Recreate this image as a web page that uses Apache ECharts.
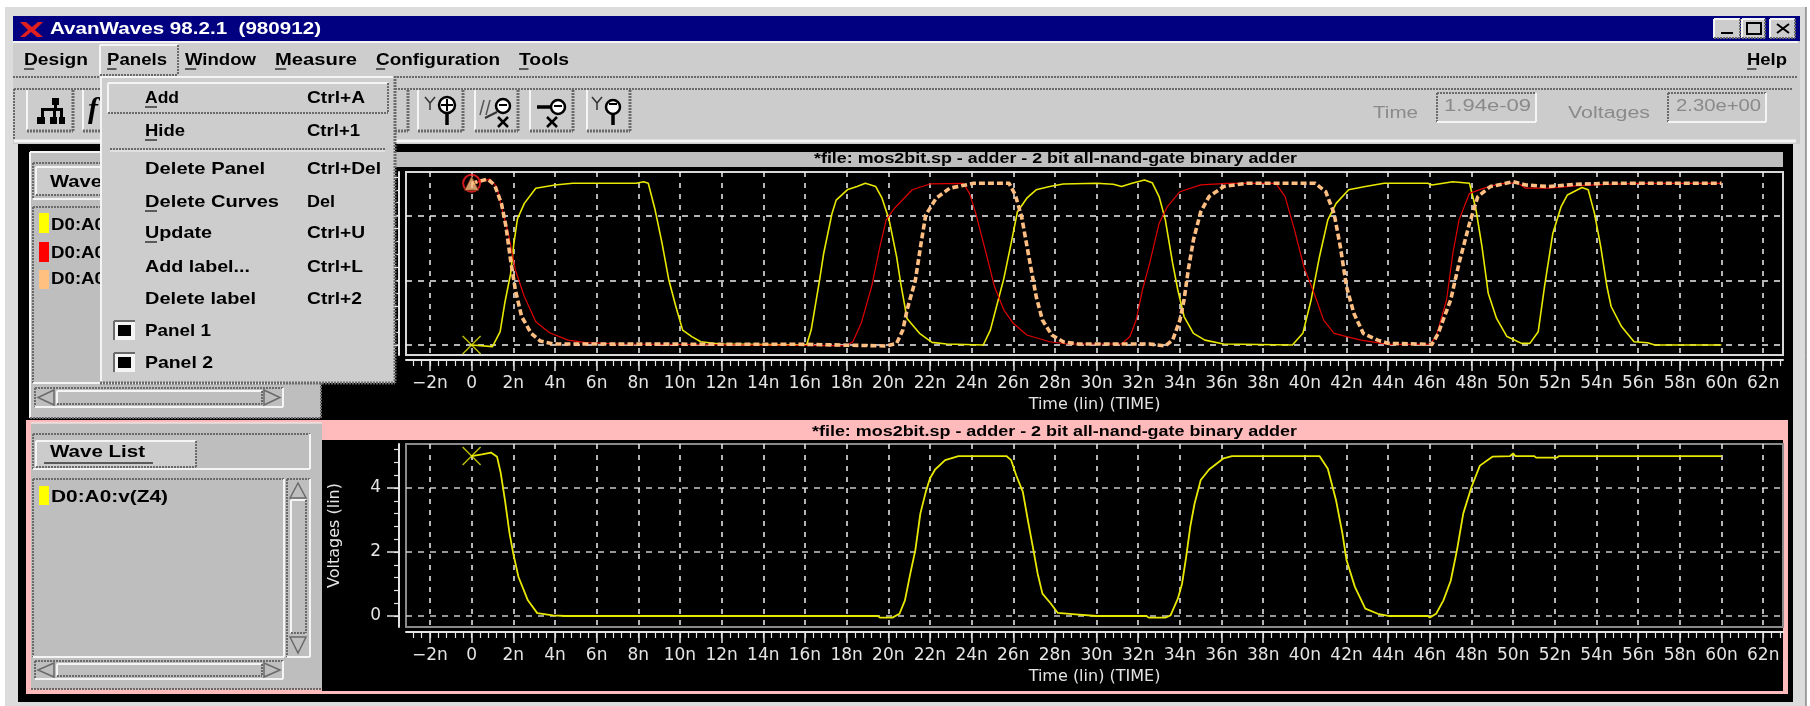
<!DOCTYPE html>
<html><head><meta charset="utf-8">
<style>html,body{margin:0;padding:0;background:#fff}#c{width:1810px;height:706px}</style>
<script src="https://cdn.jsdelivr.net/npm/echarts@6/dist/echarts.min.js"></script>
</head><body><div id="c"></div>
<script>
// ---------- data: [time in ns, volts] ----------
const topYellow = [[0,0],[1,-0.05],[1.37,0.41],[1.59,1.29],[1.87,2.2],[2.03,3.15],[2.2,3.9],[2.53,4.38],[3.08,4.85],[4,4.95],[4.85,5],[7.9,5],[8.26,5.05],[8.48,5],[8.8,4.2],[9.14,3.15],[9.47,2],[9.8,1.2],[10.13,0.46],[10.57,0.26],[11,0.1],[11.9,0.03],[16.08,0],[16.3,0.46],[16.7,2],[16.9,2.83],[17.3,4.07],[17.5,4.48],[18.06,4.81],[18.5,4.9],[18.9,5],[19.4,4.9],[19.7,4.54],[20.04,3.87],[20.4,2.73],[20.6,1.9],[20.9,0.82],[21.5,0.36],[22.1,0.08],[22.8,0.03],[24.56,0],[24.9,0.46],[25.2,1.2],[25.55,2.06],[25.9,3.15],[26.2,4.12],[26.65,4.54],[27.1,4.8],[27.75,4.9],[28.4,4.98],[30,5],[30.8,4.97],[31.2,4.9],[31.7,5],[32.3,5.1],[32.67,5.02],[33,4.59],[33.3,3.87],[33.65,2.53],[33.9,1.7],[34.2,0.88],[34.65,0.36],[35.2,0.15],[36.1,0.03],[39.4,0],[39.9,0.36],[40.3,1.4],[40.7,2.73],[41.1,3.87],[41.5,4.38],[42.1,4.8],[42.9,4.9],[43.8,5],[45.9,5],[46.1,4.95],[47.1,5.05],[47.9,5],[48.2,4.23],[48.5,3.04],[48.8,1.6],[49.2,0.82],[49.7,0.26],[50.4,0.05],[50.8,0.05],[51.2,0.41],[51.5,1.8],[51.9,3.45],[52.3,4.28],[52.6,4.64],[53.3,4.87],[53.6,4.8],[53.9,4.07],[54.2,3.04],[54.5,1.8],[54.7,1.19],[55.2,0.57],[55.8,0.1],[56.45,0.07],[56.8,0],[60,0]];
const topRed = [[0,5],[0.88,5.13],[1.2,4.9],[1.43,4.28],[1.76,3.45],[2.1,2.32],[2.53,1.5],[3.08,0.72],[3.74,0.38],[4.63,0.15],[5.5,0.07],[7,0.03],[17.4,-0.02],[18,-0.02],[18.3,0.1],[18.7,0.67],[19.2,1.8],[19.6,3.04],[19.9,3.87],[20.3,4.23],[21.15,4.8],[22,4.98],[23.6,5],[23.9,4.69],[24.2,4.07],[24.7,2.83],[25.1,1.8],[25.55,1.08],[26,0.67],[26.65,0.31],[27.75,0.1],[28.6,0.03],[31.2,0.03],[31.6,0.26],[31.9,0.77],[32.2,1.7],[32.55,2.53],[33,3.76],[33.4,4.28],[34,4.74],[35,4.95],[36.3,5],[38.6,5],[39.05,4.59],[39.5,3.56],[39.95,2.42],[40.5,1.5],[40.9,0.77],[41.4,0.36],[42,0.26],[42.7,0.15],[44,0.02],[46,0.02],[46.3,0.26],[46.8,1.4],[47.1,2.83],[47.4,3.87],[47.9,4.69],[48.6,4.85],[49.3,4.98],[50.2,5.02],[50.6,4.85],[51.7,4.85],[53,4.92],[54.4,4.97],[56.1,5],[60,5]];
const topOrange = [[0,5],[0.77,5.13],[1.1,4.95],[1.43,4.38],[1.65,3.66],[1.87,2.63],[2.1,1.7],[2.4,0.88],[2.86,0.36],[3.3,0.12],[3.96,0.03],[16,0.02],[19.9,-0.03],[20.4,0.05],[20.7,0.46],[20.9,1.08],[21.3,2],[21.6,3.25],[21.8,4.02],[22.3,4.54],[22.95,4.85],[24.1,5],[25.8,5],[26.1,4.64],[26.4,3.97],[26.75,2.73],[27.1,1.5],[27.4,0.77],[27.85,0.31],[28.4,0.1],[29.1,0.03],[32.55,0.03],[33.3,-0.03],[33.65,0.15],[34,0.77],[34.2,1.4],[34.4,2.32],[34.65,3.25],[35,4.12],[35.4,4.59],[36.1,4.9],[37.2,5],[40.5,5],[41,4.74],[41.4,4.07],[41.7,3.04],[42,1.8],[42.35,0.98],[42.8,0.36],[43.5,0.15],[44,0.05],[46.1,0.02],[46.4,0.36],[47,1.4],[47.4,2.53],[47.9,3.76],[48.3,4.59],[48.9,4.9],[50,5.05],[50.3,5],[50.6,4.95],[51.7,4.9],[53,4.97],[54.4,5],[60,5]];
const bottomZ4 = [[0,5],[0.5,5.05],[0.93,5.11],[1.22,4.98],[1.4,4.46],[1.6,3.62],[1.82,2.58],[2,1.95],[2.25,1.22],[2.7,0.49],[3.15,0.09],[3.9,0.02],[4.5,0],[19.5,0],[19.6,-0.05],[20.2,-0.05],[20.54,0.07],[20.8,0.49],[21.06,1.33],[21.3,2.06],[21.54,3.2],[21.8,3.88],[22,4.3],[22.25,4.58],[22.73,4.87],[23.37,5],[25.67,5],[25.9,4.87],[26.14,4.4],[26.46,3.88],[26.7,3],[26.94,2.16],[27.17,1.33],[27.4,0.7],[27.8,0.39],[28.13,0.1],[29,0.05],[30,0],[32.4,0],[32.5,-0.05],[33.3,-0.05],[33.55,0.02],[33.9,0.54],[34.1,1],[34.3,1.85],[34.5,2.8],[34.7,3.5],[35,4.25],[35.4,4.58],[36.1,4.93],[36.5,5],[40.7,5],[41.1,4.6],[41.5,3.6],[41.8,2.58],[42,1.74],[42.4,0.91],[42.9,0.23],[43.5,0.07],[44,0],[45.9,0],[46,-0.05],[46.3,0.07],[46.65,0.49],[47,1.1],[47.3,2.06],[47.6,3.2],[48,4.04],[48.4,4.7],[49,4.98],[49.85,5],[50,5.08],[50.1,5],[51,5],[51.1,4.95],[52.1,4.95],[52.2,5],[60,5]];
const markerTopTriangle = [[0,5]];
const markerTopCross = [[0,0]];
const markerBottomCross = [[0,5]];
const xMajorTicks = [-2,0,2,4,6,8,10,12,14,16,18,20,22,24,26,28,30,32,34,36,38,40,42,44,46,48,50,52,54,56,58,60,62];
const yMajorTicks = [0,2,4];
const xMinorTicks = []; for (let i=-7;i<=157;i++) xMinorTicks.push(+(i*0.4).toFixed(1));
const yMinorTicks = []; for (let i=0;i<=13;i++) yMinorTicks.push(+(i*0.4).toFixed(1));
const titleText = '*file: mos2bit.sp - adder - 2 bit all-nand-gate binary adder';
const xName = 'Time (lin) (TIME)';
const yName = 'Voltages (lin)';
const menuBar = [['Design',24,88],['Panels',107,167],['Window',185,256],['Measure',275,357],['Configuration',376,500],['Tools',519,569],['Help',1747,1787]];
const menuRows = [['Add','Ctrl+A',98,179,365,true],['Hide','Ctrl+1',131,185,360,true],['Delete Panel','Ctrl+Del',169,265,381,false],['Delete Curves','Del',202,279,335,true],['Update','Ctrl+U',233,212,365,true],['Add label...','Ctrl+L',267,250,363,false],['Delete label','Ctrl+2',299,256,362,false],['Panel 1','',331,211,0,false],['Panel 2','',363,213,0,false]];

// ---------- window chrome helpers ----------
const G = [];
const mctx = document.createElement('canvas').getContext('2d');
function rect(x,y,w,h,fill,z=-1){G.push({type:'rect',z,silent:true,shape:{x,y,width:w,height:h},style:{fill}});}
function ln(x1,y1,x2,y2,stroke,lineWidth=1,z=-1,dash){G.push({type:'line',z,silent:true,shape:{x1,y1,x2,y2},style:{stroke,lineWidth,lineDash:dash||null}});}
function bevel(x,y,w,h,z=-1,raised=true){
  const a=raised?'#f4f4f4':'#6a6a6a', b=raised?'#6a6a6a':'#f4f4f4';
  ln(x,y,x+w,y,a,2,z,raised?null:[2,1]); ln(x,y,x,y+h,a,2,z,raised?null:[2,1]);
  ln(x,y+h,x+w,y+h,b,2,z,raised?[2,1]:null); ln(x+w,y,x+w,y+h,b,2,z,raised?[2,1]:null);
}
function txt(x,y,s,o={}){
  const font=(o.style||'')+' '+(o.bold?'bold ':'')+(o.size||17)+'px "'+(o.fam||'Liberation Sans')+'"';
  mctx.font=font; const m=mctx.measureText(s).width;
  const sx=o.w?o.w/m:1;
  G.push({type:'text',z:o.z===undefined?-1:o.z,silent:true,x,y,scaleX:sx,style:{text:s,font,fill:o.color||'#000',textAlign:'left',textVerticalAlign:'middle'}});
}
function ring(cx,cy,r,z=1){G.push({type:'circle',z,silent:true,shape:{cx,cy,r},style:{fill:'#fff',stroke:'#000',lineWidth:2.5}});}
function cross(cx,cy,z=1){ln(cx-5,cy-5,cx+5,cy+5,'#000',2.5,z);ln(cx+5,cy-5,cx-5,cy+5,'#000',2.5,z);}
function yGlyph(cx,cy,z=1){ln(cx-5,cy-6,cx,cy,'#333',1.5,z);ln(cx+5,cy-6,cx,cy,'#333',1.5,z);ln(cx,cy,cx,cy+7,'#333',1.5,z);}

// page and window frame
rect(5,7,1801,699,'#dcdcdc');
ln(1806,7,1806,706,'#555',1);
rect(13,16,1787,25,'#000080');
// title X logo
G.push({type:'polygon',z:-1,silent:true,shape:{points:[[20,22],[26,22],[32,27],[38,22],[43,22],[35,30],[43,37],[37,37],[31,32],[25,37],[20,37],[28,30]]},style:{fill:'#e02020'}});
txt(50,29,'AvanWaves 98.2.1  (980912)',{w:271,size:17,bold:true,color:'#fff'});
// window buttons
[[1714,26],[1742,23],[1770,25]].forEach(b=>{rect(b[0],19,b[1],19,'#cccccc');bevel(b[0],19,b[1],19);});
rect(1721,32,12,2,'#000');
G.push({type:'rect',z:-1,silent:true,shape:{x:1747,y:23,width:14,height:11},style:{fill:'none',stroke:'#000',lineWidth:2}});
ln(1777,24,1789,33,'#000',2);ln(1789,24,1777,33,'#000',2);
// menu bar
rect(13,41,1787,37,'#cdcdcd');
ln(13,77,1798,77,'#6a6a6a',2,-1,[2,1]);
ln(13,42,1798,42,'#f4f4f4',2);
menuBar.forEach(m=>{txt(m[1],60,m[0],{w:m[2]-m[1],size:17,bold:true});const w=(m[2]-m[1])/(m[0].length)*0.95;ln(m[1],69,m[1]+w,69,'#333',1.5);});
bevel(100,45,78,30);
// tool bar
rect(13,78,1787,66,'#cccccc');
ln(14,89,1792,89,'#6a6a6a',2,-1,[2,1]);ln(14,89,14,140,'#6a6a6a',2,-1,[2,1]);
ln(14,141,1796,141,'#f4f4f4',3);
[[27,46],[83,46],[380,28],[418,45],[475,43],[530,43],[587,43]].forEach(b=>{ln(b[0],90,b[0],130,'#f4f4f4',2);ln(b[0],131,b[0]+b[1],131,'#6a6a6a',3,-1,[2,1]);ln(b[0]+b[1],90,b[0]+b[1],131,'#6a6a6a',3,-1,[2,1]);});
// hierarchy icon
rect(52,98,7,7,'#000');rect(54,105,3,4,'#000');rect(41,108,21,3,'#000');rect(41,108,3,9,'#000');rect(53,108,3,9,'#000');rect(60,108,3,9,'#000');
rect(37,117,8,7,'#000');rect(50,117,7,7,'#000');rect(59,117,6,7,'#000');
txt(88,110,'f',{size:30,bold:true,style:'italic',fam:'Liberation Serif'});
// magnifier icons
yGlyph(430,103);ring(447,105,8);ln(441,105,453,105,'#000',2,1);ln(447,99,447,111,'#000',2,1);ln(447,113,447,125,'#000',3.5,1);
ln(484,100,480,115,'#555',1.5);ln(490,100,486,115,'#555',1.5);ln(497,112,485,118,'#333',2);ring(503,106,7);ln(499,105,507,105,'#000',2,1);cross(503,122);
ln(537,107,552,107,'#000',3.5);ring(558,107,7);ln(554,106,562,106,'#000',2,1);cross(552,122);
yGlyph(597,103);ring(613,107,7);ln(609,104,617,104,'#000',2,1);ln(613,114,613,125,'#000',3.5,1);
// read-outs
txt(1373,114,'Time',{w:45,size:16,color:'#8a8a8a'});
txt(1568,114,'Voltages',{w:82,size:16,color:'#8a8a8a'});
bevel(1437,93,99,29,-1,false);bevel(1668,93,98,29,-1,false);
txt(1444,107,'1.94e-09',{w:87,size:16,color:'#8a8a8a'});
txt(1676,107,'2.30e+00',{w:85,size:16,color:'#8a8a8a'});
// black work area
rect(18,144,1775,558,'#000');
// upper panel
rect(30,152,291,266,'#bebebe');
rect(321,152,1462,15,'#bebebe');
bevel(30,152,291,266);
txt(814,159,titleText,{w:483,size:14,bold:true});
bevel(33,163,277,36,-1,false);
rect(36,167,160,28,'#cccccc');bevel(36,167,160,28);
txt(50,182,'Wave',{w:52,size:17,bold:true});
bevel(33,207,251,176,-1,false);
[['#ffff00',213,20],['#ff0000',242,20],['#ffc080',270,19]].forEach(s=>{rect(39,s[1],10,s[2],s[0]);});
[226,254,280].forEach(y=>txt(51,y,'D0:A0',{w:54,size:16,bold:true}));
// upper horizontal scroll bar
function hscroll(y,h){
  bevel(35,y,248,h,-1,false);
  rect(57,y+3,205,h-6,'#bebebe');bevel(57,y+3,205,h-6);
  G.push({type:'polygon',z:-1,silent:true,shape:{points:[[54,y+2],[38,y+h/2],[54,y+h-2]]},style:{fill:'none',stroke:'#6a6a6a',lineWidth:1.5}});
  G.push({type:'polygon',z:-1,silent:true,shape:{points:[[264,y+2],[280,y+h/2],[264,y+h-2]]},style:{fill:'none',stroke:'#6a6a6a',lineWidth:1.5}});
}
hscroll(388,19);
// lower panel
rect(26,420,1762,274,'#ffbbbb');
rect(322,440,1461,251,'#000');
rect(31,423,291,266,'#bebebe');
ln(31,423,322,423,'#f4f4f4',1);ln(31,689,322,689,'#6a6a6a',2,-1,[2,1]);
txt(812,432,titleText,{w:485,size:14,bold:true});
bevel(33,434,277,35,-1,false);
rect(36,441,160,26,'#cccccc');bevel(36,441,160,26);
txt(50,452,'Wave List',{w:95,size:17,bold:true});ln(44,463,153,463,'#333',1.5);
bevel(33,479,251,178,-1,false);
rect(39,486,10,19,'#ffff00');
txt(51,498,'D0:A0:v(Z4)',{w:117,size:16,bold:true});
bevel(287,479,23,178,-1,false);
rect(291,500,15,133,'#bebebe');bevel(291,500,15,133);
G.push({type:'polygon',z:-1,silent:true,shape:{points:[[290,498],[298,483],[306,498]]},style:{fill:'none',stroke:'#6a6a6a',lineWidth:1.5}});
G.push({type:'polygon',z:-1,silent:true,shape:{points:[[290,637],[298,653],[306,637]]},style:{fill:'none',stroke:'#6a6a6a',lineWidth:1.5}});
hscroll(661,18);
// pulled-down menu
const MZ=100;
rect(100,76,295,307,'#cdcdcd',MZ);
ln(100,77,395,77,'#f4f4f4',2,MZ);ln(101,76,101,383,'#f4f4f4',2,MZ);
ln(100,383,395,383,'#6a6a6a',3,MZ,[2,1]);ln(395,76,395,383,'#6a6a6a',3,MZ,[2,1]);
bevel(108,83,280,30,MZ);
ln(110,149,385,149,'#6a6a6a',2,MZ,[2,1]);ln(110,151,385,151,'#f4f4f4',1,MZ);
menuRows.forEach(r=>{
  txt(145,r[2],r[0],{w:r[3]-145,size:17,bold:true,z:MZ});
  if(r[1]) txt(307,r[2],r[1],{w:r[4]-307,size:17,bold:true,z:MZ});
  if(r[5]) ln(145,r[2]+9,157,r[2]+9,'#333',1.5,MZ);
});
[321,353].forEach(y=>{rect(114,y,21,19,'#f4f4f4',MZ);ln(114,y,135,y,'#6a6a6a',2,MZ);ln(114,y,114,y+19,'#6a6a6a',2,MZ);rect(118,y+4,13,11,'#000',MZ);});

// ---------- chart ----------
const AXC='#e4e4e4';
const fmtX = v => v===0?'0':(v<0?'\u2212'+(-v):v)+'n';
function xAxes(grid,boxY){return [
  {type:'value',gridIndex:grid,min:-3.15,max:62.95,offset:5,position:'bottom',
   axisLine:{show:true,onZero:false,lineStyle:{color:AXC,width:2}},
   axisTick:{show:true,length:11,customValues:xMajorTicks,lineStyle:{color:AXC,width:1.5}},
   axisLabel:{show:true,customValues:xMajorTicks,formatter:fmtX,color:AXC,fontFamily:'DejaVu Sans',fontSize:17,margin:15,showMinLabel:true,showMaxLabel:true,hideOverlap:false},
   splitLine:{show:true,lineStyle:{color:'#f0f0f0',width:1.5,type:[5,6]}},
   name:xName,nameLocation:'middle',nameGap:37,nameTextStyle:{color:AXC,fontFamily:'DejaVu Sans',fontSize:16}},
  {type:'value',gridIndex:grid,min:-3.15,max:62.95,offset:5,position:'bottom',
   axisLine:{show:false,onZero:false},axisLabel:{show:false},splitLine:{show:false},
   axisTick:{show:true,length:6,customValues:xMinorTicks,lineStyle:{color:AXC,width:1.2}}}
];}
function yAxes(grid,min,max,showLab,hColor){return [
  {type:'value',gridIndex:grid,min,max,offset:7,position:'left',
   axisLine:{show:true,onZero:false,lineStyle:{color:AXC,width:2}},
   axisTick:{show:true,length:12,customValues:yMajorTicks,lineStyle:{color:AXC,width:1.5}},
   axisLabel:{show:showLab,customValues:yMajorTicks,color:AXC,fontFamily:'DejaVu Sans',fontSize:17,margin:18},
   splitLine:{show:true,lineStyle:{color:hColor,width:1.5,type:[6,6]}},
   name:showLab?yName:'',nameLocation:'middle',nameGap:56,nameRotate:90,nameTextStyle:{color:AXC,fontFamily:'DejaVu Sans',fontSize:16}},
  {type:'value',gridIndex:grid,min,max,offset:7,position:'left',
   axisLine:{show:false,onZero:false},axisLabel:{show:false},splitLine:{show:false},
   axisTick:{show:true,length:5,customValues:yMinorTicks,lineStyle:{color:AXC,width:1.2}}}
];}
const wave=(name,data,x,y,color,width,type)=>({name,type:'line',xAxisIndex:x,yAxisIndex:y,data,showSymbol:false,symbol:'none',smooth:false,clip:true,animation:false,silent:true,lineStyle:{color,width,type:type||'solid',cap:'butt',join:'round'},z:3});
const mark=(name,data,x,y,symbol,size,itemStyle)=>({name,type:'scatter',xAxisIndex:x,yAxisIndex:y,data,symbol,symbolSize:size,itemStyle,animation:false,silent:true,clip:false,z:5});
const crossSym='path://M0 0L20 20M20 0L0 20M0 0';

const chart=echarts.init(document.getElementById('c'),null,{renderer:'canvas'});
chart.setOption({
  animation:false,backgroundColor:'#ffffff',
  graphic:{elements:G},
  grid:[
    {left:406,top:172,width:1377,height:183,show:true,borderColor:'#d8d8d8',borderWidth:2,backgroundColor:'transparent'},
    {left:406,top:444,width:1377,height:183,show:true,borderColor:'#8a8a8a',borderWidth:2,backgroundColor:'transparent'}
  ],
  xAxis:[...xAxes(0),...xAxes(1)],
  yAxis:[...yAxes(0,-0.31,5.35,false,'#f0f0f0'),...yAxes(1,-0.344,5.376,true,'#c8c8c8')],
  series:[
    wave('topYellow',topYellow,0,0,'#e8e800',1.6),
    wave('topRed',topRed,0,0,'#e00000',1.2),
    wave('topOrange',topOrange,0,0,'#ffbe82',3.6,[6,3]),
    mark('topMarkerRing',markerTopTriangle,0,0,'circle',17,{color:'transparent',borderColor:'#ff2020',borderWidth:2}),
    mark('topMarkerTriangle',markerTopTriangle,0,0,'triangle',14,{color:'#ffbe82',borderColor:'#7a3010',borderWidth:1}),
    mark('topMarkerCross',markerTopCross,0,0,crossSym,18,{color:'transparent',borderColor:'#e8e800',borderWidth:1.5}),
    wave('D0:A0:v(Z4)',bottomZ4,2,2,'#e8e800',1.8),
    mark('bottomMarkerCross',markerBottomCross,2,2,crossSym,18,{color:'transparent',borderColor:'#e8e800',borderWidth:1.5})
  ]
});
</script></body></html>
